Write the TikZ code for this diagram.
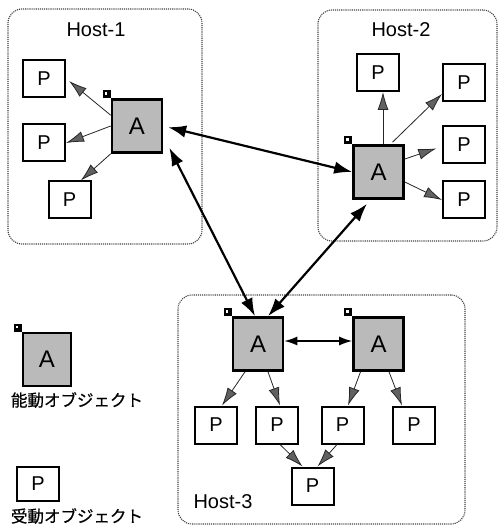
\documentclass[tikz,border=0pt]{standalone}
\usepackage{fontspec}
\setmainfont{Liberation Sans}
\newfontfamily\jpfont{Noto Sans CJK JP}[FakeBold=0.6]
\usetikzlibrary{arrows.meta,calc}

% small black tag on the upper left corner of an active object
\newcommand\objtag[1]{%
  \fill (#1.north west) rectangle ++(-8,-8);
  \fill[white] ($(#1.north west)+(-6,-6)$) rectangle ++(2.6,2.6);
}

\begin{document}
\begin{tikzpicture}[x=1pt,y=-1pt,
  host/.style={draw=black!75, densely dotted, line width=1.1pt, rounded corners=14pt,
               inner sep=0pt},
  pbox/.style={draw, line width=2pt, fill=white, minimum width=42pt, minimum height=37pt,
               inner sep=0pt, font=\fontsize{20}{20}\selectfont},
  abox/.style={draw, line width=2.6pt, fill=black!27, minimum width=50pt, minimum height=53pt,
               inner sep=0pt, font=\fontsize{24}{24}\selectfont},
  hostlabel/.style={inner sep=0pt, font=\fontsize{20}{20}\selectfont},
  legendlabel/.style={inner sep=0pt, font=\jpfont\fontsize{16.5}{17}\selectfont},
  garrow/.style={line width=0.8pt, draw=black!85,
                 -{Latex[length=18pt,width=11pt,fill=black!62]}},
  barrow/.style={line width=2.2pt,
                 {Latex[length=18pt,width=12.5pt]}-{Latex[length=18pt,width=12.5pt]}},
  marrow/.style={line width=1.5pt,
                 {Latex[length=13pt,width=9pt]}-{Latex[length=13pt,width=9pt]}},
]
\useasboundingbox (0,0) rectangle (499,526);

% ---------- hosts ----------
\node[host, minimum width=194pt, minimum height=235pt] (h1) at (105,126.5) {};
\node[host, minimum width=179pt, minimum height=231pt] (h2) at (407.5,125.5) {};
\node[host, minimum width=287pt, minimum height=229pt] (h3) at (321.5,409.5) {};
\node[hostlabel] (h1l) at (96,30) {Host-1};
\node[hostlabel] (h2l) at (401,30) {Host-2};
\node[hostlabel] (h3l) at (223,502) {Host-3};

% ---------- Host-1 ----------
\node[abox] (a1) at (137,126) {A};
\node[pbox] (p11) at (44,78.5) {P};
\node[pbox] (p12) at (44,143) {P};
\node[pbox] (p13) at (69.5,200) {P};
\objtag{a1}

% ---------- Host-2 ----------
\node[abox] (a2) at (378.5,172) {A};
\node[pbox] (p21) at (378,72.5) {P};
\node[pbox] (p22) at (464,82.5) {P};
\node[pbox] (p23) at (464,144.5) {P};
\node[pbox] (p24) at (464,200) {P};
\objtag{a2}

% ---------- Host-3 ----------
\node[abox] (a3) at (258,344) {A};
\node[abox] (a4) at (378.5,344) {A};
\node[pbox] (p31) at (216,425) {P};
\node[pbox] (p32) at (277,425) {P};
\node[pbox] (p33) at (342.5,425) {P};
\node[pbox] (p34) at (414,425) {P};
\node[pbox] (p35) at (312.5,486) {P};
\objtag{a3}
\objtag{a4}

% ---------- legend ----------
\node[abox, minimum width=48pt] (la) at (47,359.5) {A};
\objtag{la}
\node[legendlabel] (lal) at (77,400) {能動オブジェクト};
\node[pbox, minimum height=34pt] (lp) at (38,483.5) {P};
\node[legendlabel] (lpl) at (77,516) {受動オブジェクト};

% ---------- references inside the hosts ----------
\draw[garrow, shorten >=4pt] ($(a1.north west)+(0,17)$) -- (p11.east);
\draw[garrow] (a1.west) -- (p12.east);
\draw[garrow] (a1.south west) -- (p13.60);

\draw[garrow] ($(a2.north)+(4.5,0)$) -- ($(p21.south)+(5,0)$);
\draw[garrow] ($(a2.north)+(14,-2)$) -- ($(p22.south west)+(0,-8)$);
\draw[garrow, shorten >=6pt] ($(a2.east)+(0,-13)$) -- ($(p23.west)+(0,2)$);
\draw[garrow] ($(a2.east)+(0,10)$) -- (p24.west);

\draw[garrow] ($(a3.south)+(-13,0)$) -- ($(p31.north)+(6,0)$);
\draw[garrow] ($(a3.south)+(10,0)$) -- ($(p32.north)+(3,0)$);
\draw[garrow] ($(a4.south)+(-18,0)$) -- ($(p33.north)+(5.5,0)$);
\draw[garrow] ($(a4.south)+(10.5,0)$) -- ($(p34.north)+(-12,0)$);
\draw[garrow] ($(p32.south)+(3,0)$) -- ($(p35.north)+(-10,0)$);
\draw[garrow] ($(p33.south)+(-5.5,0)$) -- ($(p35.north)+(5,0)$);

% ---------- links between active objects ----------
\draw[barrow, shorten <=5pt] (a1.east) -- (a2.west);
\draw[barrow] ($(a1.south east)+(6,-6)$) -- ($(a3.north)+(-3,0)$);
\draw[barrow] ($(a2.south)+(-11.5,4)$) -- ($(a3.north)+(10,0)$);
\draw[marrow] ($(a3.east)+(0,-3)$) -- ($(a4.west)+(0,-3)$);
\end{tikzpicture}
\end{document}
